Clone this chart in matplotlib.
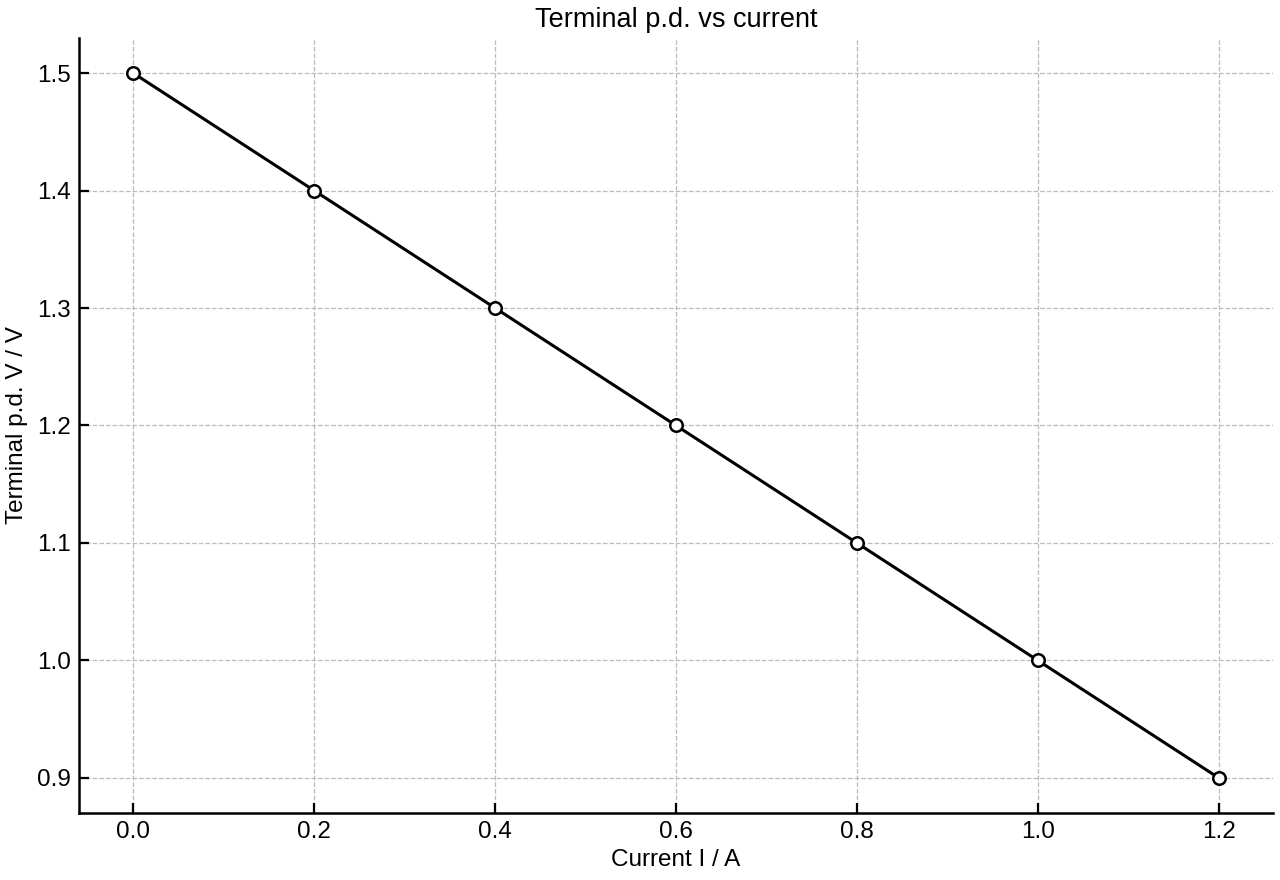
import numpy as np
import matplotlib.pyplot as plt

plt.rcParams['font.family'] = ['Liberation Sans', 'DejaVu Sans']

# measured values
current = [0.0, 0.2, 0.4, 0.6, 0.8, 1.0, 1.2]
pd_volts = [1.5, 1.4, 1.3, 1.2, 1.1, 1.0, 0.9]

fig, ax = plt.subplots(figsize=(12.8, 8.8), dpi=100)
fig.subplots_adjust(left=0.0617, right=0.9945, bottom=0.076, top=0.957)

ax.plot(current, pd_volts, color='black', linewidth=2.2, marker='o',
        markersize=9, markerfacecolor='white', markeredgecolor='black',
        markeredgewidth=1.8, zorder=3)

ax.set_title('Terminal p.d. vs current', fontsize=19.5, pad=8)
ax.set_xlabel('Current I / A', fontsize=17.5, labelpad=4)
ax.set_ylabel('Terminal p.d. V / V', fontsize=17.5, labelpad=6)

ax.set_xticks(np.arange(0, 1.21, 0.2))
ax.set_yticks(np.arange(0.9, 1.51, 0.1))
ax.tick_params(direction='in', labelsize=17.5, width=1.6, length=7, pad=6)

ax.grid(True, linestyle='--', color='#bbbbbb', linewidth=0.9)
ax.spines['top'].set_visible(False)
ax.spines['right'].set_visible(False)
ax.spines['left'].set_linewidth(1.8)
ax.spines['bottom'].set_linewidth(1.8)

plt.savefig('out.png', dpi=100)
